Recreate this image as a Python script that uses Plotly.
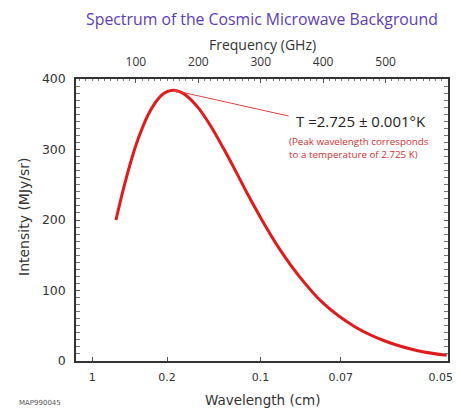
import plotly.graph_objects as go

# Data
frequency_ghz = [68, 80, 90, 100, 110, 120, 130, 140, 150, 160, 170, 180, 200,
                 220, 240, 260, 280, 300, 330, 360, 400, 450, 500, 550, 598]
intensity = [200, 244, 277, 306, 330, 350, 365, 376, 382, 384, 382, 377, 359,
             333, 302, 269, 235, 203, 159, 122, 82, 49, 28, 15, 8]

wavelength_ticks_cm = [1, 0.2, 0.1, 0.07, 0.05]
# the last label is padded so that it stays inside the window at the right edge
wavelength_labels = ["1", "0.2", "0.1", "0.07", "0.05\u00a0\u00a0\u00a0\u00a0"]
frequency_ticks = [100, 200, 300, 400, 500]
intensity_ticks = [0, 100, 200, 300, 400]

C_GHZ_CM = 29.9792458  # frequency (GHz) = c / wavelength(cm)
wl_pos = [C_GHZ_CM / w for w in wavelength_ticks_cm]

peak_freq, peak_int = 160, 384

RED = "#e01b1b"
AX = "#333333"
TXT = "#333333"
SANS = "DejaVu Sans, Verdana, sans-serif"
MYR = "Open Sans, Noto Sans, sans-serif"

OFF = 8  # page body margin
W, H = 461, 410
# target plot box in screen pixels: x 76..448, y 79..361
L = 76 - OFF
T = 79 - OFF
R = W - (448 - OFF)
B = H - (361 - OFF)
PW, PH = W - L - R, H - T - B


def px_x(px):
    return (px - OFF - L) / PW


def px_y(py):
    return (H - B - (py - OFF)) / PH


fig = go.Figure()
fig.add_trace(go.Scatter(x=frequency_ghz, y=intensity, mode="lines",
                         line=dict(color=RED, width=3, shape="spline"),
                         showlegend=False, hoverinfo="skip"))
fig.add_trace(go.Scatter(x=frequency_ghz, y=intensity, mode="lines", xaxis="x2",
                         line=dict(color="rgba(0,0,0,0)", width=0),
                         showlegend=False, hoverinfo="skip"))

XR = [4, 600]

fig.update_layout(
    width=W, height=H,
    margin=dict(l=L, r=R, t=T, b=B, autoexpand=False),
    paper_bgcolor="white", plot_bgcolor="white",
    title=dict(text="Spectrum of the Cosmic Microwave Background",
               font=dict(family=MYR, size=15.8, color="#5b3db8"),
               x=(262 - OFF) / W, xanchor="center", y=1 - (19 - OFF) / H,
               yanchor="middle", yref="container", automargin=False),
    xaxis=dict(range=XR, tickvals=wl_pos, ticktext=wavelength_labels,
               ticks="inside", ticklen=4, tickcolor="#555", tickwidth=1,
               showline=True, linecolor=AX, linewidth=1.5, mirror=False,
               showgrid=False, zeroline=False, automargin=False,
               ticklabelstandoff=5, ticklabeloverflow="allow",
               tickfont=dict(family=SANS, size=11, color=TXT)),
    xaxis2=dict(range=XR, overlaying="x", side="top", anchor="y",
                tickvals=frequency_ticks, automargin=False,
                ticks="inside", ticklen=4, tickcolor="#555", tickwidth=1,
                minor=dict(dtick=10, tick0=0, ticks="inside", ticklen=2, tickcolor="#777"),
                showline=True, linecolor=AX, linewidth=1.5,
                showgrid=False, zeroline=False, ticklabelstandoff=6,
                tickfont=dict(family=MYR, size=12, color=TXT)),
    yaxis=dict(range=[0, 400], tickvals=intensity_ticks, automargin=False,
               ticks="inside", ticklen=4, tickcolor="#555", tickwidth=1,
               minor=dict(dtick=10, ticks="inside", ticklen=2, tickcolor="#777"),
               showline=True, linecolor=AX, linewidth=1.5, mirror="allticks",
               showgrid=False, zeroline=False, ticklabelstandoff=6,
               tickfont=dict(family=SANS, size=12.5, color=TXT)),
    annotations=[
        dict(text="Frequency (GHz)", xref="paper", yref="paper",
             x=px_x(262), y=px_y(45), xanchor="center", yanchor="middle",
             showarrow=False, font=dict(family=MYR, size=14, color=TXT)),
        dict(text="Wavelength (cm)", xref="paper", yref="paper",
             x=px_x(262), y=px_y(400), xanchor="center", yanchor="middle",
             showarrow=False, font=dict(family=SANS, size=13.5, color=TXT)),
        dict(text="Intensity (MJy/sr)", xref="paper", yref="paper",
             x=px_x(24), y=px_y(217), xanchor="center", yanchor="middle",
             textangle=-90, showarrow=False,
             font=dict(family=SANS, size=14, color=TXT)),
        dict(x=peak_freq, y=peak_int, xref="x", yref="y",
             ax=347, ay=347, axref="x", ayref="y",
             text="", showarrow=True, arrowhead=2, arrowsize=0.8,
             arrowwidth=1, arrowcolor="#e04040"),
        dict(text="T =2.725 \u00b1 0.001\u00b0K", xref="paper", yref="paper",
             x=px_x(294), y=px_y(121), xanchor="left", yanchor="middle",
             showarrow=False,
             font=dict(family=MYR, size=15, color="#222")),
        dict(text="(Peak wavelength corresponds<br>to a temperature of 2.725 K)",
             xref="paper", yref="paper", x=px_x(287), y=px_y(148),
             xanchor="left", yanchor="middle",
             align="left", showarrow=False,
             font=dict(family=MYR, size=9.8, color="#d43030")),
        dict(text="MAP990045", xref="paper", yref="paper",
             x=px_x(17), y=px_y(403), xanchor="left", yanchor="middle",
             showarrow=False, font=dict(family=SANS, size=7, color="#555")),
    ],
)

fig.write_html("out.html")
